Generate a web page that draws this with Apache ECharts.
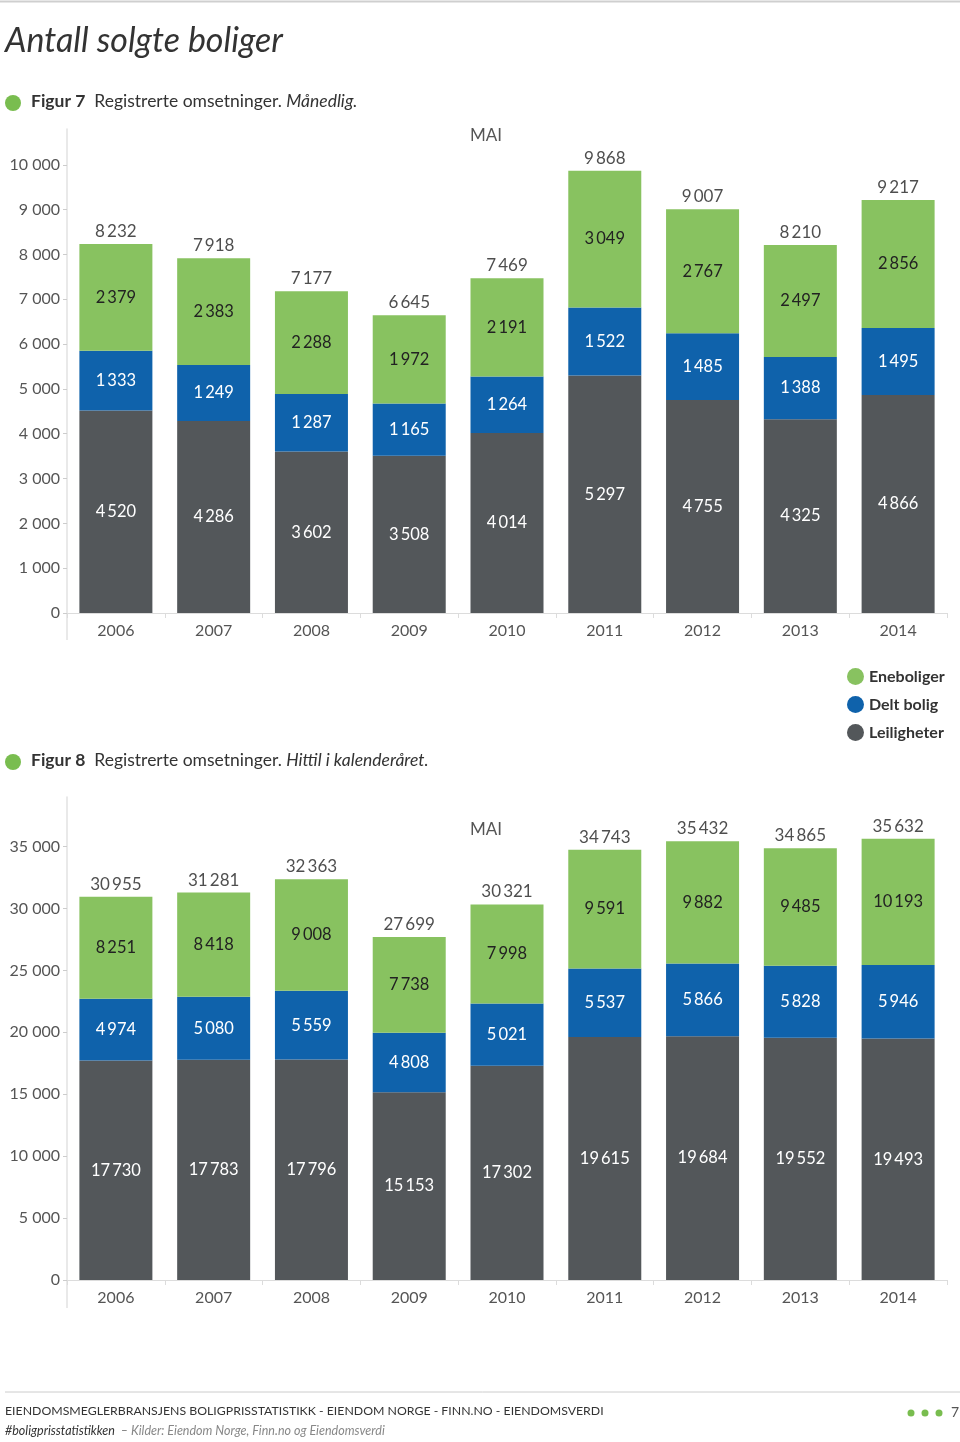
<!DOCTYPE html>
<html>
<head>
<meta charset="utf-8">
<script src="https://cdn.jsdelivr.net/npm/echarts@6/dist/echarts.min.js"></script>
<style>
html,body{margin:0;padding:0;background:#fff;}
#c{width:960px;height:1442px;}
</style>
</head>
<body>
<div id="c"></div>
<script>
const years = ['2006','2007','2008','2009','2010','2011','2012','2013','2014'];
const seriesNames = ['Eneboliger','Delt bolig','Leiligheter'];

// Figur 7 – Månedlig (mai)
const m_leil = [4520, 4286, 3602, 3508, 4014, 5297, 4755, 4325, 4866];
const m_delt = [1333, 1249, 1287, 1165, 1264, 1522, 1485, 1388, 1495];
const m_ene  = [2379, 2383, 2288, 1972, 2191, 3049, 2767, 2497, 2856];
const m_tot  = [8232, 7918, 7177, 6645, 7469, 9868, 9007, 8210, 9217];
const m_ticks = [0,1000,2000,3000,4000,5000,6000,7000,8000,9000,10000];

// Figur 8 – Hittil i kalenderåret
const h_leil = [17730, 17783, 17796, 15153, 17302, 19615, 19684, 19552, 19493];
const h_delt = [4974, 5080, 5559, 4808, 5021, 5537, 5866, 5828, 5946];
const h_ene  = [8251, 8418, 9008, 7738, 7998, 9591, 9882, 9485, 10193];
const h_tot  = [30955, 31281, 32363, 27699, 30321, 34743, 35432, 34865, 35632];
const h_ticks = [0,5000,10000,15000,20000,25000,30000,35000];

const C_GREEN = '#88c260', C_BLUE = '#0f62ab', C_GRAY = '#53575a';
const FONT = 'Lato';
const fmt = v => String(v).replace(/\B(?=(\d{3})+(?!\d))/g, '\u2009');
const fmtAxis = v => String(v).replace(/\B(?=(\d{3})+(?!\d))/g, ' ');

function xAx(gi){
  return {
    type:'category', gridIndex:gi, data:years,
    axisLine:{show:true, lineStyle:{color:'#dcdcdc', width:1}},
    axisTick:{show:true, length:5, lineStyle:{color:'#dcdcdc'}},
    axisLabel:{color:'#555', fontSize:16, fontFamily:FONT, margin:10}
  };
}
function yAx(gi, max, ticks){
  return {
    type:'value', gridIndex:gi, min:0, max:max,
    splitLine:{show:false},
    axisLine:{show:true, lineStyle:{color:'#e2e2e2', width:1.5}},
    axisTick:{show:true, length:4, lineStyle:{color:'#ccc'}, customValues:ticks},
    axisLabel:{color:'#555', fontSize:16, fontFamily:FONT, margin:7, formatter:fmtAxis, customValues:ticks}
  };
}
function barSeries(name, data, gi, color, labelColor){
  return {
    name:name, type:'bar', stack:'s'+gi, xAxisIndex:gi, yAxisIndex:gi,
    data:data, barWidth:73,
    itemStyle:{color:color},
    label:{show:true, position:'inside', color:labelColor, fontSize:16.5, fontFamily:FONT, formatter:p=>fmt(p.value)},
    emphasis:{disabled:true}
  };
}
function totalSeries(data, gi){
  return {
    type:'scatter', xAxisIndex:gi, yAxisIndex:gi, data:data, symbolSize:0.01,
    label:{show:true, position:'top', distance:4, color:'#222', fontSize:17, fontFamily:FONT, formatter:p=>fmt(p.value)},
    itemStyle:{color:'transparent'}, z:5, silent:true
  };
}
function headerText(y, fig, normal, italic){
  return [
    {type:'circle', shape:{cx:13, cy:y, r:8}, style:{fill:'#79bd4f'}},
    {type:'text', left:31, top:y-11, style:{
      text:'{b|'+fig+'}{n|  '+normal+'}{i|'+italic+'}',
      rich:{
        b:{fontFamily:FONT, fontWeight:'bold', fontSize:17.5, fill:'#333'},
        n:{fontFamily:FONT, fontSize:17.5, fill:'#333'},
        i:{fontFamily:FONT, fontStyle:'italic', fontSize:17.5, fill:'#333'}
      }
    }}
  ];
}

const chart = echarts.init(document.getElementById('c'), null, {renderer:'canvas'});
chart.setOption({
  backgroundColor:'#fff',
  animation:false,
  grid:[
    {left:67, right:13, top:129, height:484},
    {left:67, right:13, top:797, height:483}
  ],
  xAxis:[xAx(0), xAx(1)],
  yAxis:[yAx(0, 10800, m_ticks), yAx(1, 39000, h_ticks)],
  legend:{
    data:seriesNames, orient:'vertical', left:842, top:663, itemGap:11,
    icon:'circle', itemWidth:17, itemHeight:17,
    textStyle:{fontFamily:FONT, fontWeight:'bold', fontSize:16, color:'#333'},
    selectedMode:false
  },
  series:[
    barSeries('Leiligheter', m_leil, 0, C_GRAY, '#fff'),
    barSeries('Delt bolig', m_delt, 0, C_BLUE, '#fff'),
    barSeries('Eneboliger', m_ene, 0, C_GREEN, '#222'),
    totalSeries(m_tot, 0),
    barSeries('Leiligheter', h_leil, 1, C_GRAY, '#fff'),
    barSeries('Delt bolig', h_delt, 1, C_BLUE, '#fff'),
    barSeries('Eneboliger', h_ene, 1, C_GREEN, '#222'),
    totalSeries(h_tot, 1)
  ],
  graphic:[
    {type:'line', shape:{x1:0, y1:1.5, x2:960, y2:1.5}, style:{stroke:'#cfcfcf', lineWidth:2}},
    {type:'text', left:5, top:24, style:{text:'Antall solgte boliger', fontFamily:FONT, fontStyle:'italic', fontSize:34, fill:'#333'}},
    ...headerText(103, 'Figur 7', 'Registrerte omsetninger. ', 'Månedlig.'),
    ...headerText(762, 'Figur 8', 'Registrerte omsetninger. ', 'Hittil i kalenderåret.'),
    {type:'text', left:470, top:127, style:{text:'MAI', fontFamily:FONT, fontSize:17, fill:'#555'}},
    {type:'text', left:470, top:821, style:{text:'MAI', fontFamily:FONT, fontSize:17, fill:'#555'}},
    {type:'line', shape:{x1:67, y1:613, x2:67, y2:640}, style:{stroke:'#e2e2e2', lineWidth:1.5}},
    {type:'line', shape:{x1:67, y1:1280, x2:67, y2:1308}, style:{stroke:'#e2e2e2', lineWidth:1.5}},
    {type:'line', shape:{x1:5, y1:1392, x2:960, y2:1392}, style:{stroke:'#cccccc', lineWidth:1}},
    {type:'text', left:5, top:1405, style:{text:'EIENDOMSMEGLERBRANSJENS BOLIGPRISSTATISTIKK - EIENDOM NORGE - FINN.NO - EIENDOMSVERDI', fontFamily:FONT, fontSize:12.3, fill:'#333'}},
    {type:'text', left:5, top:1424, style:{
      text:'{a|#boligprisstatistikken}{b|  – Kilder: Eiendom Norge, Finn.no og Eiendomsverdi}',
      rich:{
        a:{fontFamily:FONT, fontStyle:'italic', fontSize:12.5, fill:'#333'},
        b:{fontFamily:FONT, fontStyle:'italic', fontSize:12.5, fill:'#888'}
      }
    }},
    {type:'circle', shape:{cx:911, cy:1413, r:3.5}, style:{fill:'#79bd4f'}},
    {type:'circle', shape:{cx:925, cy:1413, r:3.5}, style:{fill:'#79bd4f'}},
    {type:'circle', shape:{cx:939, cy:1413, r:3.5}, style:{fill:'#79bd4f'}},
    {type:'text', left:951, top:1405, style:{text:'7', fontFamily:FONT, fontSize:14, fill:'#555'}}
  ]
});
</script>
</body>
</html>
